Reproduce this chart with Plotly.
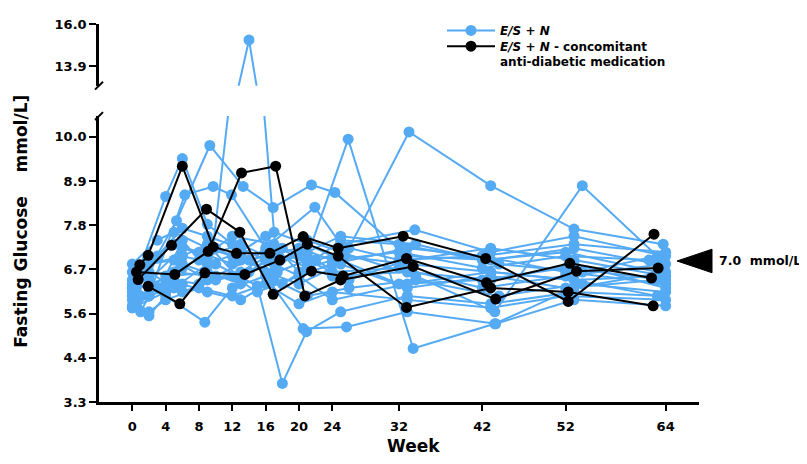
import plotly.graph_objects as go

# ---------------- data ----------------
x_tick_weeks = [0, 4, 8, 12, 16, 20, 24, 32, 42, 52, 64]
y_tick_mgdl = [60, 80, 100, 120, 140, 160, 180]
y_tick_labels = ["3.3", "4.4", "5.6", "6.7", "7.8", "8.9", "10.0"]
y2_tick_mgdl = [250, 288]
y2_tick_labels = ["13.9", "16.0"]

# E/S + N patients (week, fasting glucose mmol/L)
blue_weeks = [
    [0, 2, 5, 9.3, 14, 17.4, 21, 25, 33, 43, 53, 64],
    [0.5, 4, 6, 10, 15, 18, 20.9, 25, 33, 43, 53, 63.5],
    [0, 2, 6, 9, 13, 17, 21, 25.9, 33.7, 43.5, 53, 64],
    [0, 2, 5, 9, 13, 17, 21, 25.5, 33.2, 43, 53, 63.7],
    [1, 3, 6, 10, 13, 17, 21, 25, 34, 43.5, 54, 63.5],
    [0, 4, 6, 9, 12, 16, 20, 24, 33, 42, 52, 64],
    [0.5, 5.3, 9.3, 13.3, 16.9, 21.5, 24.3, 33, 43, 53, 63],
    [0, 2, 6.3, 9.7, 11.9, 16, 21.9, 25, 33.9, 43, 53, 64],
    [0, 2, 4, 8.7, 12, 16, 20.5, 25.7, 33, 43.6, 53, 64],
    [0, 2, 5, 8, 12, 16, 20, 24, 32, 42, 52, 62],
    [1, 2, 6, 9, 13, 17, 21, 26, 34, 44, 54, 64],
    [0, 3, 5, 9, 12, 16, 20, 25, 32, 42, 52, 63],
    [0.5, 2, 6, 10, 14, 18, 21, 24, 33, 43, 53, 64],
    [0, 2, 5, 9, 13, 16, 20, 25, 33, 43, 52, 63],
    [1, 4, 6, 8, 12, 17, 21, 26, 32, 42, 53, 64],
    [0, 2, 4, 8, 12, 16, 20, 24, 33, 43, 52, 64],
    [0.5, 3, 6, 9, 13, 17, 21, 25, 34, 44, 54, 63],
    [0, 2, 5, 9, 13, 16, 20, 24, 32, 42, 52, 64],
    [1, 2, 6, 10, 14, 18, 22, 26, 33, 43, 53, 64],
    [0, 4, 5, 8, 12, 15, 20, 24, 33, 43, 53, 63],
    [0, 2, 6, 9, 13, 17, 21, 25, 32, 42, 52, 64],
]
blue_glucose = [
    [6.2, 6.0, 6.6, 6.5, 15.2, 6.6, 6.9, 7.0, 6.8, 6.6, 6.4, 6.5],
    [5.9, 6.3, 7.0, 6.8, 6.25, 3.8, 5.1, 5.6, 6.0, 5.8, 6.1, 6.0],
    [6.0, 6.4, 7.2, 7.0, 7.3, 6.9, 7.0, 9.94, 4.68, 5.3, 6.2, 6.6],
    [6.3, 6.8, 6.9, 6.4, 6.6, 7.1, 6.7, 7.0, 10.12, 8.77, 7.68, 7.3],
    [6.5, 6.2, 6.7, 7.2, 6.9, 6.6, 7.4, 7.1, 6.5, 5.6, 8.77, 6.9],
    [6.2, 8.5, 9.45, 7.8, 7.3, 6.9, 6.5, 6.8, 7.2, 7.0, 6.6, 6.3],
    [6.1, 7.89, 9.78, 8.75, 8.22, 8.79, 8.6, 7.0, 6.9, 7.2, 6.8],
    [5.7, 6.0, 8.54, 8.75, 8.54, 7.2, 8.23, 7.3, 7.66, 7.1, 7.5, 7.0],
    [5.75, 5.5, 6.0, 5.34, 6.2, 6.5, 5.18, 5.22, 5.6, 5.3, 5.9, 5.75],
    [6.6, 6.9, 7.3, 7.1, 6.8, 7.0, 7.2, 6.9, 7.1, 6.7, 7.0, 6.9],
    [5.6, 6.0, 6.3, 6.1, 5.9, 6.4, 6.0, 6.2, 6.4, 6.0, 6.3, 6.1],
    [6.8, 7.4, 7.6, 7.2, 7.0, 7.5, 6.6, 7.4, 7.3, 6.9, 7.1, 6.6],
    [5.8, 6.2, 6.8, 6.5, 6.9, 6.3, 6.7, 6.5, 6.6, 6.4, 6.8, 6.2],
    [6.4, 6.6, 6.2, 6.8, 7.1, 6.6, 6.3, 6.8, 6.2, 6.5, 6.2, 6.4],
    [6.0, 6.5, 7.4, 6.9, 7.5, 7.3, 6.8, 7.2, 6.9, 7.0, 7.3, 7.1],
    [5.9, 5.6, 5.9, 6.2, 6.0, 6.3, 5.8, 6.1, 5.9, 5.7, 6.0, 5.9],
    [6.3, 7.0, 7.7, 7.5, 7.2, 6.8, 7.1, 7.5, 7.3, 6.8, 6.6, 7.0],
    [6.1, 6.3, 6.5, 6.6, 6.3, 6.9, 7.0, 6.6, 6.7, 6.2, 6.5, 6.8],
    [6.7, 6.4, 6.1, 6.4, 6.6, 7.2, 6.9, 6.4, 6.9, 7.2, 6.9, 6.5],
    [5.7, 6.1, 6.4, 6.3, 6.5, 6.1, 6.5, 5.9, 6.3, 6.6, 6.4, 6.0],
    [6.2, 6.8, 7.0, 7.3, 6.4, 7.6, 7.3, 6.9, 6.3, 6.4, 6.7, 6.4],
]

# E/S + N patients with concomitant anti-diabetic medication
black_weeks = [
    [0.9, 1.9, 6.0, 9.7, 12.5, 16.5, 20.5, 24.7, 32.5, 42.4, 52.3, 62.6],
    [0.7, 4.7, 8.9, 12.9, 16.9, 21.5, 25.3, 32.9, 42.5, 52.5, 62.3],
    [0.5, 5.1, 9.1, 13.1, 17.2, 20.7, 25.0, 33.7, 43.6, 53.3, 63.1],
    [1.9, 5.7, 8.7, 13.5, 17.7, 21.0, 24.7, 32.9, 43.0, 52.3, 62.5],
]
black_glucose = [
    [6.78, 7.02, 9.26, 7.23, 7.07, 7.07, 7.49, 7.2, 7.5, 6.94, 5.86, 7.55],
    [6.41, 7.27, 8.18, 7.6, 6.04, 6.62, 6.5, 6.94, 6.33, 6.82, 6.45],
    [6.6, 6.54, 7.12, 9.09, 9.26, 6.0, 6.4, 6.74, 5.92, 6.62, 6.7],
    [6.24, 5.8, 6.58, 6.54, 6.9, 7.3, 7.0, 5.71, 6.2, 6.1, 5.75],
]

blue_name = "<i>E/S</i> + <i>N</i>"
black_name = "<i>E/S</i> + <i>N</i> - concomitant<br>anti-diabetic medication"

# ---------------- helpers ----------------
def flatten(weeks, vals):
    xs, ys = [], []
    for w, v in zip(weeks, vals):
        xs += list(w) + [None]
        ys += list(v) + [None]
    return xs, ys

BLUE = "#55AAF4"
FONT = "DejaVu Sans"

bx, by = flatten(blue_weeks, blue_glucose)
kx, ky = flatten(black_weeks, black_glucose)

fig = go.Figure()
for ax in ["y", "y2"]:
    fig.add_trace(go.Scatter(
        x=bx, y=by, mode="lines+markers", yaxis=ax, name=blue_name,
        legend="legend", showlegend=(ax == "y"), connectgaps=False,
        line=dict(color=BLUE, width=2),
        marker=dict(color=BLUE, size=11, line=dict(width=0)),
        hoverinfo="skip",
    ))
for ax in ["y", "y2"]:
    fig.add_trace(go.Scatter(
        x=kx, y=ky, mode="lines+markers", yaxis=ax, name=black_name,
        legend="legend2", showlegend=(ax == "y"), connectgaps=False,
        line=dict(color="black", width=2),
        marker=dict(color="black", size=11, line=dict(width=0)),
        hoverinfo="skip",
    ))

tickfont = dict(family=FONT, size=13, color="black", weight="bold")

# The page body has an 8px margin: figure is placed at (8, 8) in the window.
OFF = 8
W, H = 807 - OFF, 464 - OFF
# plot area in window pixels: x 99..699, y 16..402
L, R, T, B = 99 - OFF, 807 - 699, 16 - OFF, 464 - 402
pw, ph = 600, 386
def px(xw):
    return (xw - 99) / pw
def py(yw):
    return (402 - yw) / ph

legend_font = dict(family=FONT, size=12, color="black", weight="bold")

fig.update_layout(
    width=W, height=H, autosize=False,
    margin=dict(l=L, r=R, t=T, b=B),
    plot_bgcolor="white", paper_bgcolor="white",
    font=dict(family=FONT, color="black"),
    xaxis=dict(
        range=[-4, 68], tickvals=x_tick_weeks, ticktext=[str(v) for v in x_tick_weeks],
        ticks="outside", ticklen=6, tickwidth=2, tickcolor="black",
        showline=True, linewidth=2.5, linecolor="black",
        showgrid=False, zeroline=False, tickfont=tickfont,
        ticklabelstandoff=5, anchor="y",
    ),
    yaxis=dict(
        domain=[0, py(110)], range=[60 / 18, 10.52],
        tickvals=[v / 18 for v in y_tick_mgdl], ticktext=y_tick_labels,
        ticks="outside", ticklen=7, tickwidth=2, tickcolor="black",
        showline=True, linewidth=2.5, linecolor="black",
        showgrid=False, zeroline=False, tickfont=tickfont, anchor="x",
    ),
    yaxis2=dict(
        domain=[py(79), 1], range=[12.91, 16.0],
        tickvals=[v / 18 for v in y2_tick_mgdl], ticktext=y2_tick_labels,
        ticks="outside", ticklen=7, tickwidth=2, tickcolor="black",
        showline=True, linewidth=2.5, linecolor="black",
        showgrid=False, zeroline=False, tickfont=tickfont, anchor="x",
    ),
    legend=dict(
        x=px(442), y=py(8), xanchor="left", yanchor="top",
        font=legend_font, bgcolor="rgba(0,0,0,0)", valign="top", itemwidth=48,
    ),
    legend2=dict(
        x=px(442), y=py(24), xanchor="left", yanchor="top",
        font=legend_font, bgcolor="rgba(0,0,0,0)", valign="top", itemwidth=48,
    ),
    showlegend=True,
)

# axis break marks, arrow marker and titles
shapes = []
for yc in (79, 110):
    shapes.append(dict(type="line", xref="paper", yref="paper",
                       x0=px(95), y0=py(yc + 4), x1=px(103), y1=py(yc - 4),
                       line=dict(color="black", width=2)))
shapes.append(dict(type="path", xref="paper", yref="paper",
                   path=f"M {px(677)},{py(258)} L {px(712)},{py(246)} L {px(712)},{py(270)} Z",
                   fillcolor="black", line=dict(color="black", width=1)))
fig.update_layout(shapes=shapes)

fig.add_annotation(text="7.0  mmol/L", xref="paper", yref="paper",
                   x=px(717), y=py(258), xanchor="left", yanchor="middle",
                   showarrow=False, font=dict(family=FONT, size=12.5, color="black", weight="bold"))
fig.add_annotation(text="Fasting Glucose    mmol/L]", xref="paper", yref="paper",
                   x=px(21), y=py(218), xanchor="center", yanchor="middle", textangle=-90,
                   showarrow=False, font=dict(family=FONT, size=17, color="black", weight="bold"))
fig.add_annotation(text="Week", xref="paper", yref="paper",
                   x=px(413), y=py(447), xanchor="center", yanchor="middle",
                   showarrow=False, font=dict(family=FONT, size=17, color="black", weight="bold"))

fig.write_html("out.html")
